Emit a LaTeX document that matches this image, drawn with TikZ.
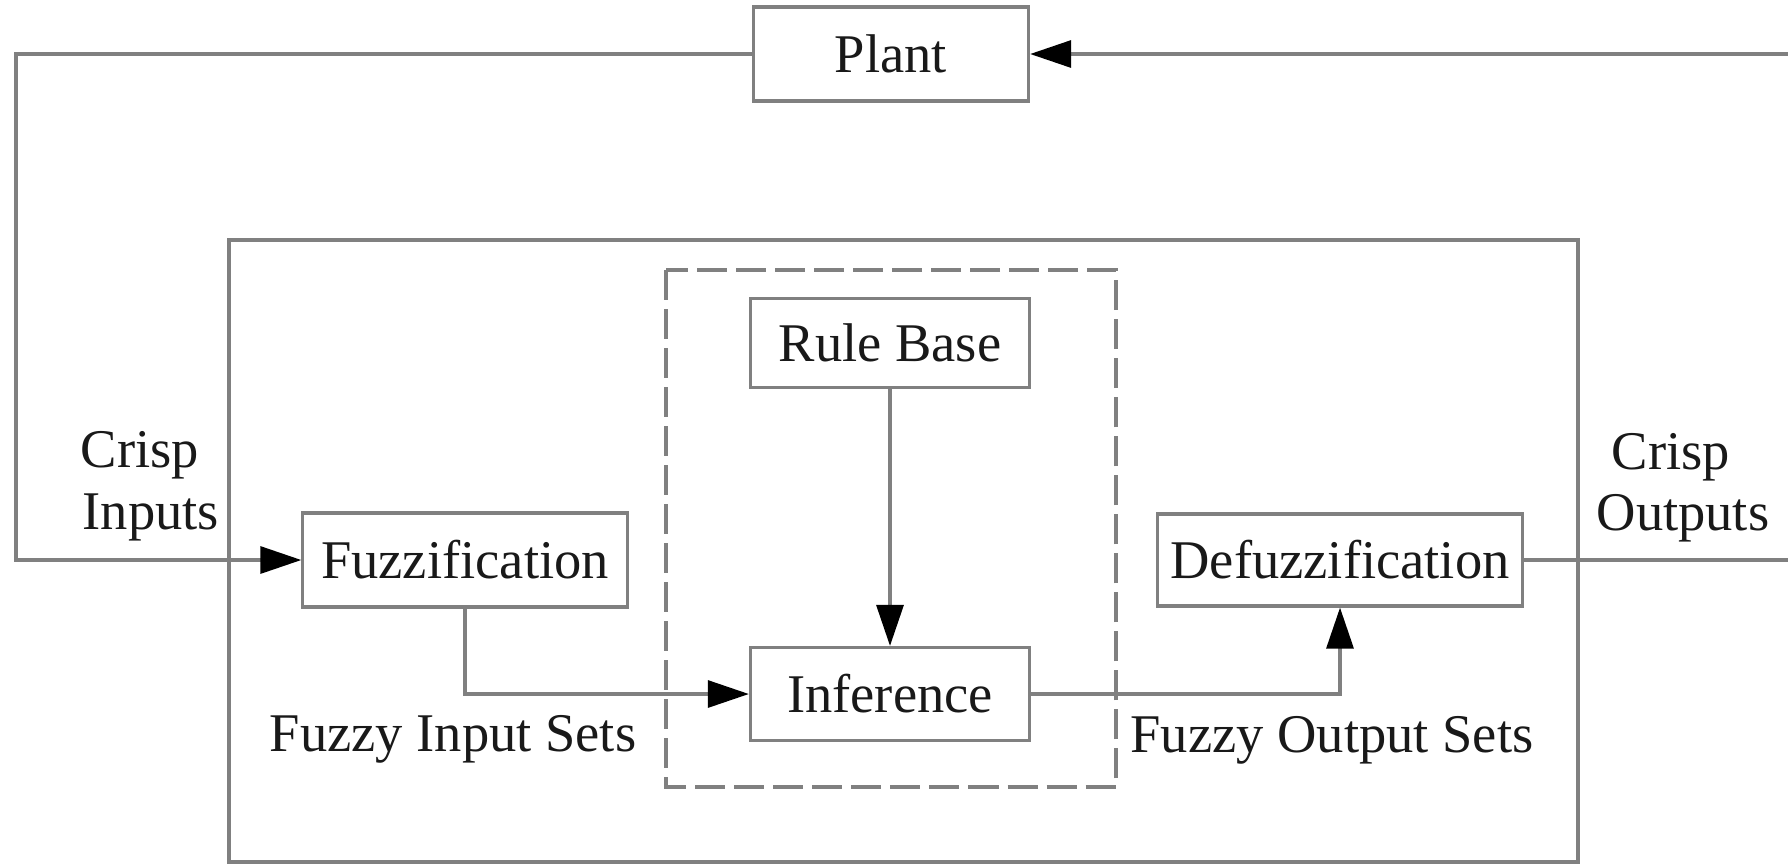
\documentclass[tikz,border=0pt]{standalone}
\usepackage{fontspec}
\setmainfont{Liberation Serif}
\usetikzlibrary{arrows.meta}
\definecolor{ln}{RGB}{128,128,128}
\definecolor{tx}{RGB}{25,25,25}
\begin{document}
\begin{tikzpicture}[x=0.01cm,y=-0.01cm,
  font=\fontsize{15.5}{18}\selectfont, text=tx,
  box/.style={draw=ln, line width=0.9pt, fill=white, inner sep=0pt},
  wire/.style={draw=ln, line width=0.9pt},
  arr/.style={wire, -{Triangle[length=4.1mm,width=2.7mm,color=black]}},
  lbl/.style={inner sep=0pt, anchor=base west},
  clbl/.style={inner sep=0pt, anchor=base}]
\useasboundingbox (0,0) rectangle (1788,863);
% outer controller box and dashed inference engine box
\draw[wire] (229,240) rectangle (1578,862);
\draw[wire, dash pattern=on 0.3cm off 0.09cm] (666,270) rectangle (1116,787);
% blocks
\node[box, minimum width=2.75cm, minimum height=0.94cm] (plant) at (891,54) {Plant};
\node[box, minimum width=2.79cm, minimum height=0.89cm] (rule) at (890,343) {Rule Base};
\node[box, minimum width=2.79cm, minimum height=0.93cm] (inf) at (890,694) {Inference};
\node[box, minimum width=3.24cm, minimum height=0.94cm] (fuzz) at (465,560) {Fuzzification};
\node[box, minimum width=3.65cm, minimum height=0.92cm] (defuzz) at (1340,560) {Defuzzification};
% free ends / corners
\coordinate (inR) at (1788,54);
\coordinate (outR) at (1788,560);
\coordinate (fbL) at (16,54);
% connectors
\draw[arr] (inR) -- (plant.east);
\draw[arr] (plant.west) -- (fbL) |- (fuzz.west);
\draw[wire] (defuzz.east) -- (outR);
\draw[arr] (rule.south) -- (inf.north);
\draw[arr] (fuzz.south) |- (inf.west);
\draw[arr] (inf.east) -| (defuzz.south);
% labels
\node[lbl] (ci1) at (80,467) {Crisp};
\node[lbl] (ci2) at (82,529) {Inputs};
\node[lbl] (co1) at (1611,469) {Crisp};
\node[lbl] (co2) at (1596,530) {Outputs};
\node[clbl] (fis) at (453,751) {Fuzzy Input Sets};
\node[clbl] (fos) at (1332,752) {Fuzzy Output Sets};
\end{tikzpicture}
\end{document}
